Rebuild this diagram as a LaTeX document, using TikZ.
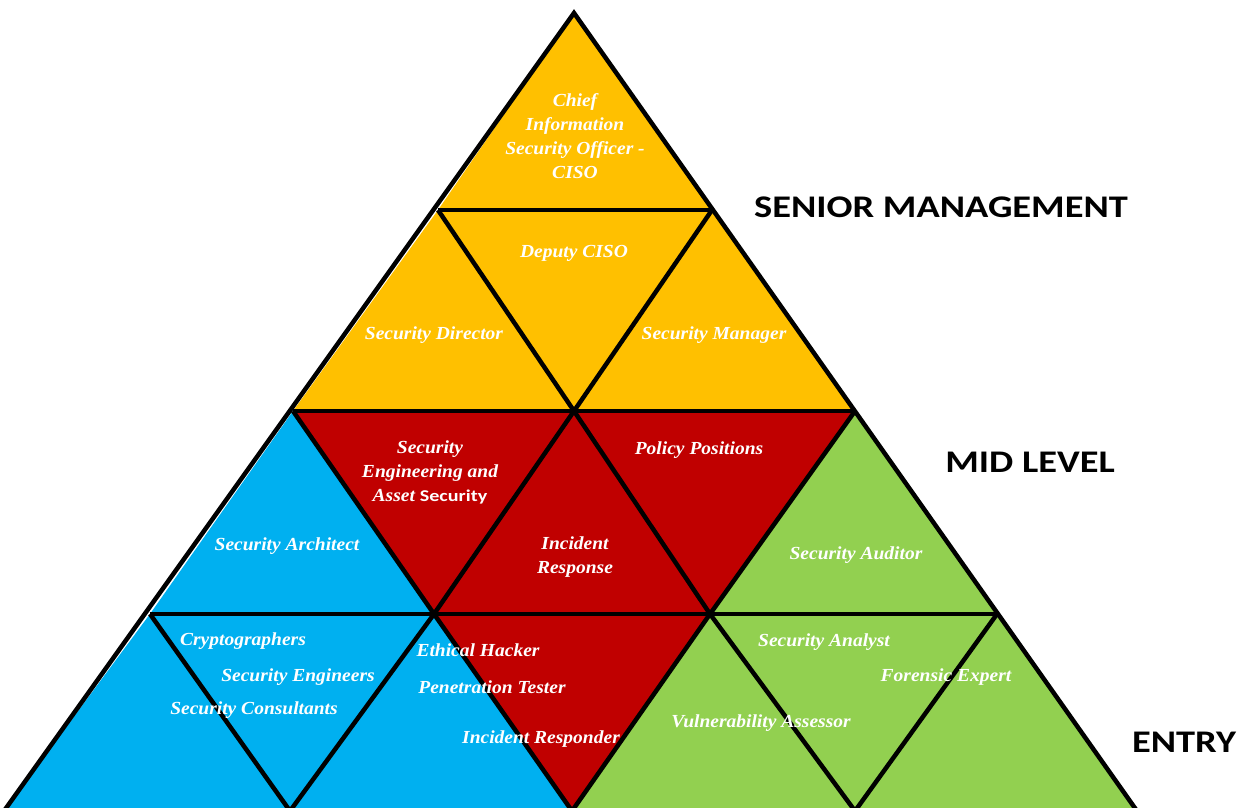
\documentclass[tikz,border=0pt]{standalone}
\usepackage{fontspec}
\setmainfont{Liberation Serif}
\newfontfamily\cellfont[FakeStretch=1.06]{Liberation Serif}
\newfontfamily\calsans[FakeStretch=1.22]{Carlito}
\definecolor{seniorcol}{HTML}{FFC000}
\definecolor{midcol}{HTML}{C00000}
\definecolor{techcol}{HTML}{00B0F0}
\definecolor{auditcol}{HTML}{92D050}
\begin{document}
\begin{tikzpicture}[x=1pt,y=-1pt,
  gridline/.style={line width=4.5pt, line join=miter, line cap=butt},
  roletext/.style={text=white, align=center, inner sep=0pt,
    font=\cellfont\bfseries\itshape\fontsize{18.4}{24}\selectfont},
  tiertext/.style={text=black, inner sep=0pt,
    font=\calsans\bfseries\fontsize{31.5}{36}\selectfont}]
\useasboundingbox (0,0) rectangle (1241,807);

% lattice points, row by row
\coordinate (v00) at (574,13);
\coordinate (v10) at (438,210);  \coordinate (v11) at (712,210);
\coordinate (v20) at (293,411);  \coordinate (v21) at (574,411);  \coordinate (v22) at (855,411);
\coordinate (v30) at (150,614);  \coordinate (v31) at (434,614);  \coordinate (v32) at (710,614);  \coordinate (v33) at (997,614);
\coordinate (v40) at (4,811);    \coordinate (v41) at (290,811);  \coordinate (v42) at (572,811);  \coordinate (v43) at (855,811);  \coordinate (v44) at (1137,811);

% senior management cells
\fill[seniorcol] (v00) -- (v10) -- (v11) -- cycle;
\fill[seniorcol] (v10) -- (v20) -- (v21) -- cycle;
\fill[seniorcol] (v10) -- (v11) -- (v21) -- cycle;
\fill[seniorcol] (v11) -- (v21) -- (v22) -- cycle;
% mid level cells
\fill[midcol] (v20) -- (v21) -- (v31) -- cycle;
\fill[midcol] (v21) -- (v31) -- (v32) -- cycle;
\fill[midcol] (v21) -- (v22) -- (v32) -- cycle;
\fill[midcol] (v31) -- (v32) -- (v42) -- cycle;
% engineering cells
\fill[techcol] (v20) -- (v30) -- (v31) -- cycle;
\fill[techcol] (v30) -- (v40) -- (v41) -- cycle;
\fill[techcol] (v30) -- (v31) -- (v41) -- cycle;
\fill[techcol] (v31) -- (v41) -- (v42) -- cycle;
% audit cells
\fill[auditcol] (v22) -- (v32) -- (v33) -- cycle;
\fill[auditcol] (v32) -- (v42) -- (v43) -- cycle;
\fill[auditcol] (v32) -- (v33) -- (v43) -- cycle;
\fill[auditcol] (v33) -- (v43) -- (v44) -- cycle;

% outline and inner grid
\draw[gridline] (v00) -- (v40) -- (v44) -- cycle;
\draw[gridline] (v10) -- (v11);
\draw[gridline] (v20) -- (v22);
\draw[gridline] (v30) -- (v33);
\draw[gridline] (v11) -- (v21) -- (v31) -- (v41);
\draw[gridline] (v22) -- (v32) -- (v42);
\draw[gridline] (v33) -- (v43);
\draw[gridline] (v10) -- (v21) -- (v32) -- (v43);
\draw[gridline] (v20) -- (v31) -- (v42);
\draw[gridline] (v30) -- (v41);

% role labels
\node[roletext] (ciso) at (575,136) {Chief\\Information\\Security Officer -\\CISO};
\node[roletext] (deputy) at (574,253) {Deputy CISO};
\node[roletext] (director) at (434,335) {Security Director};
\node[roletext] (manager) at (714,335) {Security Manager};
\node[roletext] (engasset) at (430,472) {Security\\Engineering and\\Asset {\calsans\upshape\bfseries\fontsize{16.5}{24}\selectfont Security}};
\node[roletext] (policy) at (699,450) {Policy Positions};
\node[roletext] (incident) at (575,557) {Incident\\Response};
\node[roletext] (architect) at (287,546) {Security Architect};
\node[roletext] (auditor) at (856,555) {Security Auditor};
\node[roletext] (crypto) at (243,641) {Cryptographers};
\node[roletext] (engineers) at (298,677) {Security Engineers};
\node[roletext] (consult) at (254,710) {Security Consultants};
\node[roletext] (ethical) at (478,650) {Ethical Hacker};
\node[roletext] (pentest) at (492,687) {Penetration Tester};
\node[roletext] (responder) at (541,739) {Incident Responder};
\node[roletext] (analyst) at (824,642) {Security Analyst};
\node[roletext] (forensic) at (946,677) {Forensic Expert};
\node[roletext] (vuln) at (761,723) {Vulnerability Assessor};

% tier labels
\node[tiertext] (senior) at (941,207) {SENIOR MANAGEMENT};
\node[tiertext] (midlvl) at (1030,462) {MID LEVEL};
\node[tiertext] (entry) at (1184,742) {ENTRY};
\end{tikzpicture}
\end{document}
